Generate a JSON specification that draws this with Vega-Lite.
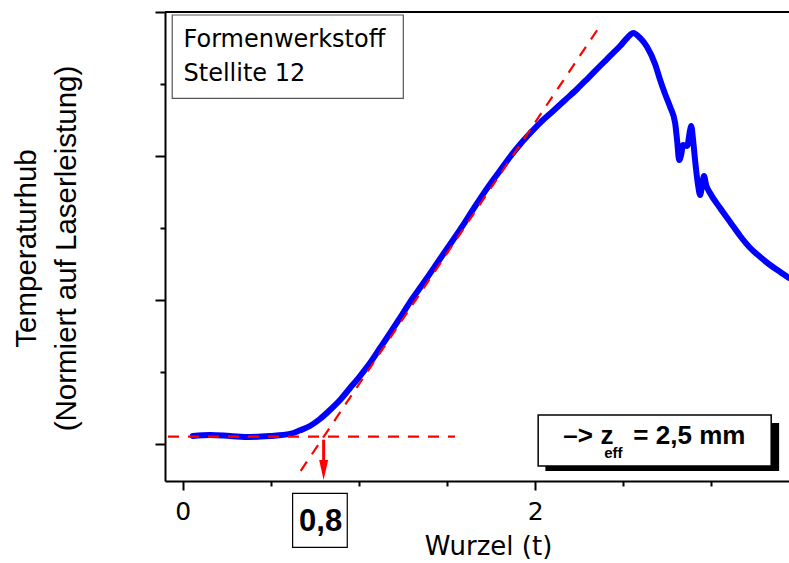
{
  "$schema": "https://vega.github.io/schema/vega-lite/v6.json",
  "width": 624,
  "height": 469,
  "autosize": "none",
  "padding": {"left": 165, "top": 12, "right": 0, "bottom": 82},
  "background": "white",
  "config": {"view": {"stroke": null}},
  "datasets": {
    "curve": [
      {"x":0.058,"y":0.111},{"x":0.155,"y":0.125},{"x":0.269,"y":0.111},{"x":0.382,"y":0.097},{"x":0.495,"y":0.111},{"x":0.609,"y":0.14},{"x":0.666,"y":0.19},{"x":0.722,"y":0.25},{"x":0.779,"y":0.347},{"x":0.836,"y":0.472},{"x":0.893,"y":0.611},{"x":0.95,"y":0.778},{"x":1.006,"y":0.944},{"x":1.063,"y":1.125},{"x":1.12,"y":1.333},{"x":1.177,"y":1.542},{"x":1.233,"y":1.75},{"x":1.29,"y":1.97},{"x":1.347,"y":2.17},{"x":1.404,"y":2.37},{"x":1.46,"y":2.57},{"x":1.534,"y":2.833},{"x":1.602,"y":3.083},{"x":1.659,"y":3.3},{"x":1.727,"y":3.55},{"x":1.801,"y":3.8},{"x":1.858,"y":3.99},{"x":1.914,"y":4.16},{"x":1.971,"y":4.315},{"x":2.028,"y":4.46},{"x":2.102,"y":4.625},{"x":2.17,"y":4.778},{"x":2.238,"y":4.931},{"x":2.295,"y":5.069},{"x":2.368,"y":5.25},{"x":2.425,"y":5.389},{"x":2.482,"y":5.528},{"x":2.527,"y":5.653},{"x":2.556,"y":5.708},{"x":2.595,"y":5.639},{"x":2.635,"y":5.514},{"x":2.68,"y":5.278},{"x":2.709,"y":5.056},{"x":2.737,"y":4.861},{"x":2.766,"y":4.681},{"x":2.794,"y":4.458},{"x":2.805,"y":4.222},{"x":2.817,"y":3.944},{"x":2.828,"y":4.014},{"x":2.839,"y":4.153},{"x":2.862,"y":4.139},{"x":2.879,"y":4.361},{"x":2.885,"y":4.417},{"x":2.896,"y":4.222},{"x":2.907,"y":3.944},{"x":2.924,"y":3.597},{"x":2.936,"y":3.458},{"x":2.947,"y":3.597},{"x":2.958,"y":3.722},{"x":2.97,"y":3.597},{"x":2.992,"y":3.486},{"x":3.049,"y":3.278},{"x":3.106,"y":3.083},{"x":3.163,"y":2.889},{"x":3.22,"y":2.722},{"x":3.277,"y":2.597},{"x":3.333,"y":2.486},{"x":3.39,"y":2.389},{"x":3.441,"y":2.306}
    ],
    "baseline": [{"x":-0.083,"x2":1.545,"y":0.101}],
    "tangent": [{"x":0.67,"y":-0.373},{"x":2.37,"y":5.815}],
    "arrow": [{"x":0.8,"y":0.06,"y2":-0.28}],
    "arrowhead": [{"x":0.8,"y":-0.36}],
    "topline": [{"y":6.0}],
    "box1": [{"x":-0.059,"x2":1.252,"y":5.958,"y2":4.801}],
    "box1text": [{"x":0.005,"y":5.51,"t":"Formenwerkstoff"},{"x":0.005,"y":5.046,"t":"Stellite 12"}],
    "shadow": [{"x":2.058,"x2":3.384,"y":0.292,"y2":-0.375}],
    "box2": [{"x":2.017,"x2":3.339,"y":0.403,"y2":-0.306}],
    "box2main": [{"x":2.16,"y":0.0,"t":"–>"},{"x":2.37,"y":0.0,"t":"z"},{"x":2.557,"y":0.0,"t":"= 2,5 mm"}],
    "box2sub": [{"x":2.392,"y":-0.2,"t":"eff"}],
    "box3": [{"x":0.624,"x2":0.934,"y":-0.685,"y2":-1.435}],
    "box3text": [{"x":0.783,"y":-1.204,"t":"0,8"}]
  },
  "layer": [
    {
      "data": {"name": "topline"},
      "mark": {"type": "rule", "color": "black", "strokeWidth": 2},
      "encoding": {
        "y": {"field": "y", "type": "quantitative",
          "scale": {"domain": [-0.514, 6.0], "nice": false, "zero": false},
          "axis": {
            "values": [0,1,2,3,4,5,6],
            "labels": false,
            "grid": false,
            "domainColor": "black", "domainWidth": 2,
            "tickColor": "black", "tickWidth": 2,
            "tickSize": {"condition": {"test": "datum.value % 2 === 0", "value": 10}, "value": 5},
            "title": ["Temperaturhub", "(Normiert auf Laserleistung)"],
            "titleFont": "Liberation Sans", "titleFontSize": 29.5, "titleFontWeight": "normal",
            "titleColor": "black",
            "titleAngle": 270, "titleX": -153, "titleY": 236,
            "titleAlign": "center", "titleBaseline": "top", "titleLineHeight": 40
          }
        }
      }
    },
    {
      "data": {"name": "curve"},
      "mark": {"type": "line", "color": "#0000ff", "strokeWidth": 6, "strokeJoin": "round", "strokeCap": "round", "interpolate": "monotone"},
      "encoding": {
        "x": {"field": "x", "type": "quantitative",
          "scale": {"domain": [-0.1, 3.44], "nice": false, "zero": false},
          "axis": {
            "values": [0,0.5,1,1.5,2,2.5,3],
            "grid": false,
            "labelExpr": "datum.value % 2 === 0 ? format(datum.value, 'd') : ''",
            "labelFont": "DejaVu Sans", "labelFontSize": 25, "labelColor": "black",
            "labelBaseline": "alphabetic", "labelPadding": 29,
            "domainColor": "black", "domainWidth": 2,
            "tickColor": "black", "tickWidth": 2,
            "tickSize": {"condition": {"test": "datum.value % 2 === 0", "value": 9}, "value": 5},
            "title": "Wurzel (t)",
            "titleFont": "DejaVu Sans", "titleFontSize": 26, "titleFontWeight": "normal",
            "titleColor": "black",
            "titleX": 323, "titleY": 73, "titleAlign": "center", "titleBaseline": "alphabetic"
          }
        },
        "y": {"field": "y", "type": "quantitative"}
      }
    },
    {
      "data": {"name": "baseline"},
      "mark": {"type": "rule", "color": "#ff0000", "strokeWidth": 2.2, "strokeDash": [11, 9]},
      "encoding": {
        "x": {"field": "x", "type": "quantitative"},
        "x2": {"field": "x2"},
        "y": {"field": "y", "type": "quantitative"}
      }
    },
    {
      "data": {"name": "tangent"},
      "mark": {"type": "line", "color": "#ff0000", "strokeWidth": 2.2, "strokeDash": [11, 9]},
      "encoding": {
        "x": {"field": "x", "type": "quantitative"},
        "y": {"field": "y", "type": "quantitative"}
      }
    },
    {
      "data": {"name": "arrow"},
      "mark": {"type": "rule", "color": "#ff0000", "strokeWidth": 3},
      "encoding": {
        "x": {"field": "x", "type": "quantitative"},
        "y": {"field": "y", "type": "quantitative"},
        "y2": {"field": "y2"}
      }
    },
    {
      "data": {"name": "arrowhead"},
      "mark": {"type": "point", "shape": "M -0.45 -1 L 0.45 -1 L 0 1 Z", "size": 400, "filled": true, "color": "#ff0000", "opacity": 1, "strokeWidth": 0},
      "encoding": {
        "x": {"field": "x", "type": "quantitative"},
        "y": {"field": "y", "type": "quantitative"}
      }
    },
    {
      "data": {"name": "box1"},
      "mark": {"type": "rect", "fill": "white", "stroke": "#555555", "strokeWidth": 1.2},
      "encoding": {
        "x": {"field": "x", "type": "quantitative"},
        "x2": {"field": "x2"},
        "y": {"field": "y", "type": "quantitative"},
        "y2": {"field": "y2"}
      }
    },
    {
      "data": {"name": "box1text"},
      "mark": {"type": "text", "font": "DejaVu Sans", "fontSize": 24, "align": "left", "baseline": "alphabetic", "color": "black"},
      "encoding": {
        "x": {"field": "x", "type": "quantitative"},
        "y": {"field": "y", "type": "quantitative"},
        "text": {"field": "t"}
      }
    },
    {
      "data": {"name": "shadow"},
      "mark": {"type": "rect", "fill": "black", "clip": false},
      "encoding": {
        "x": {"field": "x", "type": "quantitative"},
        "x2": {"field": "x2"},
        "y": {"field": "y", "type": "quantitative"},
        "y2": {"field": "y2"}
      }
    },
    {
      "data": {"name": "box2"},
      "mark": {"type": "rect", "fill": "white", "stroke": "black", "strokeWidth": 1.5},
      "encoding": {
        "x": {"field": "x", "type": "quantitative"},
        "x2": {"field": "x2"},
        "y": {"field": "y", "type": "quantitative"},
        "y2": {"field": "y2"}
      }
    },
    {
      "data": {"name": "box2main"},
      "mark": {"type": "text", "font": "Liberation Sans", "fontSize": 26, "fontWeight": "bold", "align": "left", "baseline": "alphabetic", "color": "black"},
      "encoding": {
        "x": {"field": "x", "type": "quantitative"},
        "y": {"field": "y", "type": "quantitative"},
        "text": {"field": "t"}
      }
    },
    {
      "data": {"name": "box2sub"},
      "mark": {"type": "text", "font": "Liberation Sans", "fontSize": 15, "fontWeight": "bold", "align": "left", "baseline": "alphabetic", "color": "black"},
      "encoding": {
        "x": {"field": "x", "type": "quantitative"},
        "y": {"field": "y", "type": "quantitative"},
        "text": {"field": "t"}
      }
    },
    {
      "data": {"name": "box3"},
      "mark": {"type": "rect", "fill": "white", "stroke": "black", "strokeWidth": 1.2},
      "encoding": {
        "x": {"field": "x", "type": "quantitative"},
        "x2": {"field": "x2"},
        "y": {"field": "y", "type": "quantitative"},
        "y2": {"field": "y2"}
      }
    },
    {
      "data": {"name": "box3text"},
      "mark": {"type": "text", "font": "Liberation Sans", "fontSize": 31, "fontWeight": "bold", "align": "center", "baseline": "alphabetic", "color": "black"},
      "encoding": {
        "x": {"field": "x", "type": "quantitative"},
        "y": {"field": "y", "type": "quantitative"},
        "text": {"field": "t"}
      }
    }
  ]
}
